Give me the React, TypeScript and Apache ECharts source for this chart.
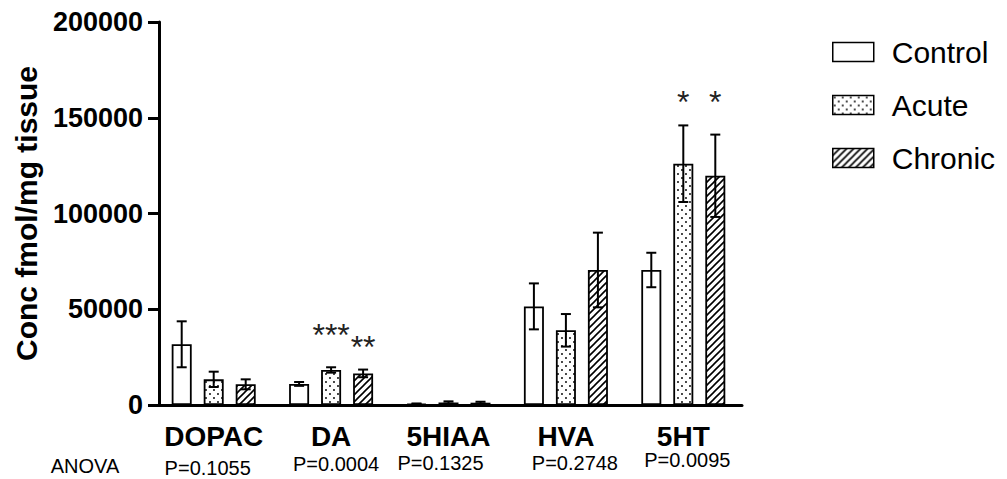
import React, { useEffect, useRef } from 'react';
import * as echarts from 'echarts';

// Neurochemical concentrations (fmol/mg tissue), mean ± SEM
const categories = ['DOPAC', 'DA', '5HIAA', 'HVA', '5HT'];
const groups = ['Control', 'Acute', 'Chronic'];

const controlMean = [31700, 11000, 600, 51500, 70500];
const controlSem = [12000, 1000, 200, 12000, 9000];
const acuteMean = [13400, 18300, 1300, 39000, 126000];
const acuteSem = [4000, 1400, 600, 8500, 20000];
const chronicMean = [10800, 16500, 1200, 70500, 119700];
const chronicSem = [2600, 2000, 500, 19500, 21500];

// Significance markers vs control
const acuteStars = ['', '***', '', '', '*'];
const chronicStars = ['', '**', '', '', '*'];

const anovaLabel = 'ANOVA';
const pValues = ['P=0.1055', 'P=0.0004', 'P=0.1325', 'P=0.2748', 'P=0.0095'];

const yMin = 0;
const yMax = 200000;
const yInterval = 50000;

const FONT = '"Liberation Sans", Arial, Helvetica, sans-serif';
const BAR_W = 20;
const BAR_GAP = 12;

function dotTile(): HTMLCanvasElement {
  const c = document.createElement('canvas');
  c.width = 8;
  c.height = 8;
  const g = c.getContext('2d')!;
  g.fillStyle = '#ffffff';
  g.fillRect(0, 0, 8, 8);
  g.fillStyle = '#000000';
  g.beginPath();
  g.arc(2, 2, 0.95, 0, Math.PI * 2);
  g.arc(6, 6, 0.95, 0, Math.PI * 2);
  g.fill();
  return c;
}

function hatchTile(): HTMLCanvasElement {
  const c = document.createElement('canvas');
  c.width = 7;
  c.height = 7;
  const g = c.getContext('2d')!;
  g.fillStyle = '#ffffff';
  g.fillRect(0, 0, 7, 7);
  g.strokeStyle = '#000000';
  g.lineWidth = 1.6;
  g.beginPath();
  g.moveTo(-1, 8);
  g.lineTo(8, -1);
  g.moveTo(-1, 1);
  g.lineTo(1, -1);
  g.moveTo(6, 8);
  g.lineTo(8, 6);
  g.stroke();
  return c;
}

export default function App() {
  const ref = useRef<HTMLDivElement>(null);

  useEffect(() => {
    if (!ref.current) return;
    const chart = echarts.init(ref.current, undefined, { renderer: 'svg' });

    const fills: any[] = [
      '#ffffff',
      { image: dotTile(), repeat: 'repeat' },
      { image: hatchTile(), repeat: 'repeat' },
    ];
    const means = [controlMean, acuteMean, chronicMean];
    const sems = [controlSem, acuteSem, chronicSem];
    const stars = [null, acuteStars, chronicStars];
    const starDist: Record<string, number> = { '1-1': 19, '1-4': 46, '2-1': 10, '2-4': 58 };

    const barSeries = groups.map((name, gi) => ({
      name,
      type: 'bar',
      barWidth: BAR_W,
      barGap: `${(BAR_GAP / BAR_W) * 100}%`,
      itemStyle: { color: fills[gi], borderColor: '#000', borderWidth: 1.8 },
      data: means[gi].map((v, ci) => {
        const s = stars[gi] ? (stars[gi] as string[])[ci] : '';
        if (!s) return v;
        return {
          value: v,
          label: {
            show: true,
            position: 'top',
            distance: starDist[`${gi}-${ci}`] ?? 10,
            formatter: s,
            fontSize: 32,
            fontFamily: FONT,
            color: '#222',
          },
        };
      }),
      z: 2,
    }));

    const errSeries = groups.map((name, gi) => {
      const offset = (gi - 1) * (BAR_W + BAR_GAP);
      return {
        name: `${name} SEM`,
        type: 'custom',
        z: 5,
        encode: { x: 0, y: 1 },
        data: categories.map((_, ci) => [ci, means[gi][ci], sems[gi][ci]]),
        renderItem: (_params: any, api: any) => {
          const ci = api.value(0);
          const m = api.value(1);
          const s = api.value(2);
          const hi = api.coord([ci, m + s]);
          const lo = api.coord([ci, m - s]);
          const x = hi[0] + offset;
          const cap = 5;
          const style = { stroke: '#000', lineWidth: 2 };
          return {
            type: 'group',
            children: [
              { type: 'line', shape: { x1: x, y1: hi[1], x2: x, y2: lo[1] }, style },
              { type: 'line', shape: { x1: x - cap, y1: hi[1], x2: x + cap, y2: hi[1] }, style },
              { type: 'line', shape: { x1: x - cap, y1: lo[1], x2: x + cap, y2: lo[1] }, style },
            ],
          };
        },
      };
    });

    chart.setOption({
      animation: false,
      backgroundColor: '#ffffff',
      textStyle: { fontFamily: FONT },
      grid: { left: 155, right: 265, top: 22, bottom: 74 },
      legend: {
        data: groups,
        orient: 'vertical',
        left: 827,
        top: 32,
        icon: 'rect',
        itemWidth: 41,
        itemHeight: 19,
        itemGap: 23,
        selectedMode: false,
        itemStyle: { borderColor: '#000', borderWidth: 1.5 },
        textStyle: { fontSize: 30, fontFamily: FONT, color: '#000', padding: [0, 0, 0, 13] },
      },
      xAxis: {
        type: 'category',
        data: categories,
        axisLine: { lineStyle: { color: '#000', width: 3 } },
        axisTick: { alignWithLabel: true, length: 11, lineStyle: { color: '#000', width: 3 } },
        axisLabel: {
          interval: 0,
          color: '#000',
          fontSize: 28,
          fontWeight: 'bold',
          fontFamily: FONT,
          margin: 17,
        },
      },
      yAxis: {
        type: 'value',
        min: yMin,
        max: yMax,
        interval: yInterval,
        offset: -4,
        name: 'Conc fmol/mg tissue',
        nameLocation: 'middle',
        nameGap: 118,
        nameTextStyle: { fontSize: 30, fontWeight: 'bold', color: '#000', fontFamily: FONT },
        splitLine: { show: false },
        axisLine: { show: true, lineStyle: { color: '#000', width: 3 } },
        axisTick: { show: true, length: 11, lineStyle: { color: '#000', width: 3 } },
        axisLabel: {
          color: '#000',
          fontSize: 27,
          fontWeight: 'bold',
          fontFamily: FONT,
          margin: 16,
          formatter: (v: number) => String(v),
        },
      },
      series: [...barSeries, ...errSeries],
    });

    // ANOVA p-values written under each category
    const pOffsetX = [-6, 5, -8, 9, 4];
    const pY = [468, 464, 463, 463, 460];
    const texts: any[] = categories.map((_, ci) => {
      const cx = chart.convertToPixel({ xAxisIndex: 0 }, ci) as number;
      return {
        type: 'text',
        x: cx + pOffsetX[ci],
        y: pY[ci],
        style: {
          text: pValues[ci],
          fontSize: 20,
          fontFamily: FONT,
          fill: '#000',
          align: 'center',
          verticalAlign: 'middle',
        },
      };
    });
    texts.push({
      type: 'text',
      x: 85,
      y: 466,
      style: {
        text: anovaLabel,
        fontSize: 20,
        fontFamily: FONT,
        fill: '#000',
        align: 'center',
        verticalAlign: 'middle',
      },
    });
    chart.setOption({ graphic: texts });

    return () => chart.dispose();
  }, []);

  return (
    <div
      ref={ref}
      style={{ position: 'fixed', left: 0, top: 0, width: 1007, height: 479, background: '#fff' }}
    />
  );
}
